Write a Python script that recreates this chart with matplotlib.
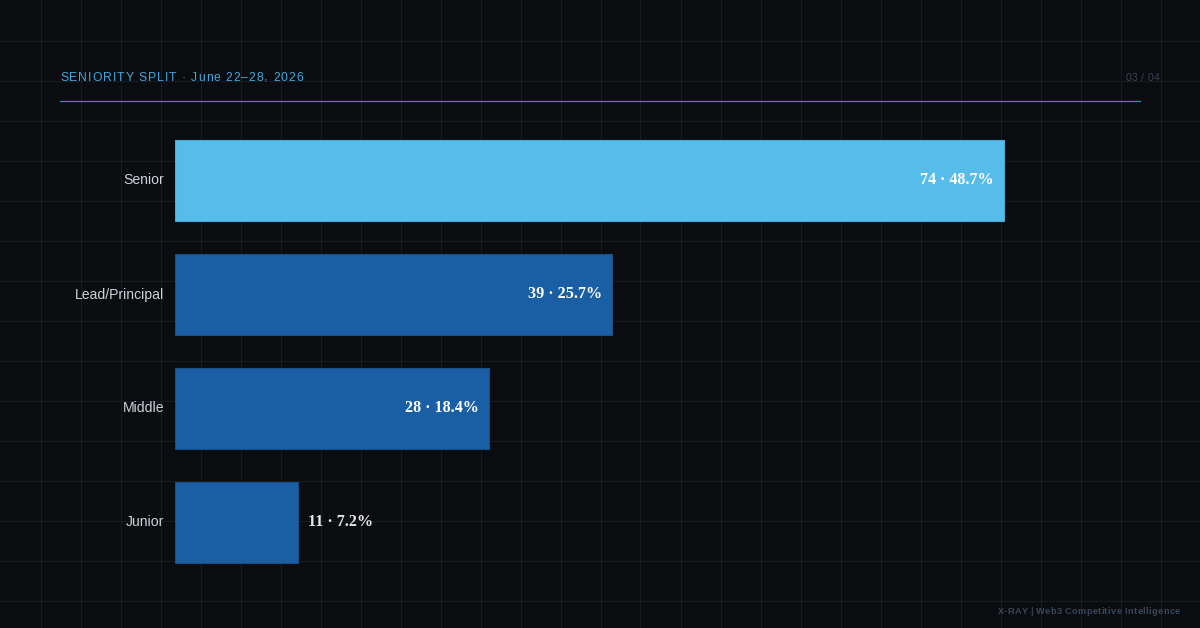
import matplotlib
matplotlib.use("Agg")
import matplotlib.pyplot as plt
from matplotlib.lines import Line2D

categories = ["Senior", "Lead/Principal", "Middle", "Junior"]
counts = [74, 39, 28, 11]
shares = [48.7, 25.7, 18.4, 7.2]
title = "SENIORITY SPLIT · June 22–28, 2026"
page = "03 / 04"
footer = "X-RAY | Web3 Competitive Intelligence"

W, H = 1200, 628
BG = "#0a0c0f"
fig = plt.figure(figsize=(W / 100, H / 100), dpi=100, facecolor=BG)

# background grid (figure level, every 40 px)
for x in range(40, W, 40):
    fig.add_artist(Line2D([(x + 0.5) / W] * 2, [0, 1], color="#181b1f", lw=0.72, zorder=0))
for y in range(40, H, 40):
    fig.add_artist(Line2D([0, 1], [1 - (y + 0.5) / H] * 2, color="#181b1f", lw=0.72, zorder=0))

# axes placed in pixel coordinates
ax_l, ax_r = 175, 1140
ax_t, ax_b = 123.5, 579.5
ax = fig.add_axes([ax_l / W, 1 - ax_b / H, (ax_r - ax_l) / W, (ax_b - ax_t) / H])
ax.set_facecolor("none")
for s in ax.spines.values():
    s.set_visible(False)
ax.set_xticks([])
ax.set_yticks([])
xmax = 86.16
ax.set_xlim(0, xmax)
ax.set_ylim(len(categories) - 0.5, -0.5)

fills = ["#56bdeb" if i == 0 else "#1a5fa3" for i in range(len(categories))]
edges = ["#4aa9d6" if i == 0 else "#174f88" for i in range(len(categories))]
ys = list(range(len(categories)))
ax.barh(ys, counts, height=0.71, color=fills, edgecolor=edges, linewidth=0.8, zorder=2)

px_per_unit = (ax_r - ax_l) / xmax
for y, c, s, cat in zip(ys, counts, shares, categories):
    label = f"{c} · {s}%"
    if c * px_per_unit > 200:
        ax.text(c - 10 / px_per_unit, y, label, ha="right", va="center",
                family="Liberation Serif", weight="bold", fontsize=11.6, color="white", zorder=3)
    else:
        ax.text(c + 10 / px_per_unit, y, label, ha="left", va="center",
                family="Liberation Serif", weight="bold", fontsize=11.6, color="#e8e8e8", zorder=3)
    ax.text(-11 / px_per_unit, y, cat, ha="right", va="center",
            family="Liberation Sans", fontsize=10.1, color="#cdd1d8")

renderer = fig.canvas.get_renderer()


def spaced_text(s, x, y, tracking, ha="left", **kw):
    """Draw text with letter spacing; x, y in pixels from top-left."""
    widths = []
    for i in range(len(s) + 1):
        if i == 0:
            widths.append(0.0)
            continue
        t = fig.text(0, 0, s[:i], **kw)
        bb = t.get_window_extent(renderer)
        widths.append(bb.width)
        t.remove()
    total = widths[-1] + tracking * (len(s) - 1)
    x0 = x if ha == "left" else x - total
    for i, ch in enumerate(s):
        if ch == " ":
            continue
        px = x0 + widths[i] + tracking * i
        fig.text(px / W, 1 - y / H, ch, ha="left", va="center", **kw)


spaced_text(title, 60, 78, 1.0, family="Liberation Sans", fontsize=8.7, color="#3fa9e0")
spaced_text(page, 1160, 78, 0.5, ha="right", family="Liberation Sans", fontsize=7.5, color="#3a4350")
spaced_text(footer, 1180, 612, 0.4, ha="right", family="Liberation Sans", fontsize=6.6,
            weight="bold", color="#38485a")

fig.add_artist(Line2D([60 / W, 1140 / W], [1 - 100.5 / H, 1 - 100.5 / H], color="#2d8bbd", lw=0.9))

fig.savefig("out.png", dpi=100, facecolor=BG)
